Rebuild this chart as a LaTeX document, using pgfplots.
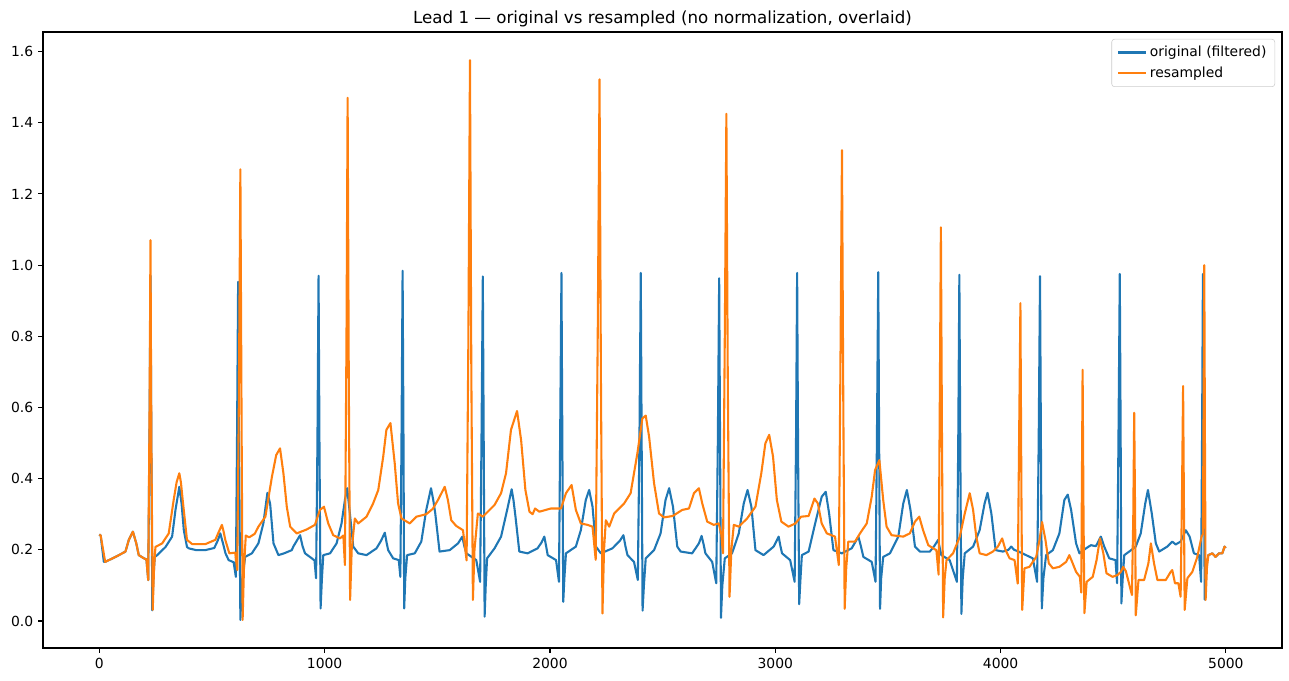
\documentclass[border=0pt]{standalone}
\usepackage{fontspec}
\setmainfont{DejaVu Sans}
\usepackage{pgfplots}
\pgfplotsset{compat=1.18}
\usetikzlibrary{calc}
\definecolor{mplblue}{HTML}{1F77B4}
\definecolor{mplorange}{HTML}{FF7F0E}
\begin{document}
\begin{tikzpicture}
\begin{axis}[
  name=ax,
  scale only axis,
  width=892.08pt, height=443.52pt,
  xmin=-250, xmax=5249, ymin=-0.076, ymax=1.655,
  xtick={0,1000,2000,3000,4000,5000},
  ytick={0,0.2,0.4,0.6,0.8,1.0,1.2,1.4,1.6},
  /pgf/number format/assume math mode=true,
  xticklabel style={/pgf/number format/.cd, set thousands separator={}, fixed},
  yticklabel style={/pgf/number format/.cd, fixed, fixed zerofill, precision=1},
  tick pos=left, tick align=outside,
  major tick length=3.5pt,
  every tick/.style={black, line width=0.8pt},
  axis line style={line width=0.8pt},
  tick label style={font=\fontsize{10}{12}\selectfont},
  title={Lead 1 — original vs resampled (no normalization, overlaid)},
  title style={at={(0.5,1)}, anchor=base, font=\fontsize{12}{14}\selectfont},
  legend style={at={(1,1)}, anchor=north east, xshift=-5pt, yshift=-5pt,
    draw=black!20, rounded corners=2pt, fill=white, fill opacity=0.8, text opacity=1,
    font=\fontsize{10}{12}\selectfont, inner xsep=4pt, inner ysep=3pt, row sep=2pt},
  legend cell align=left,
  legend image code/.code={\draw[#1] (0pt,0pt) -- (20pt,0pt);},
  every axis plot/.append style={line width=1.5pt, line join=round, mark=none},
]
\addplot[mplblue] table {
0 0.243
6 0.24
20 0.166
26 0.166
59 0.176
87 0.185
116 0.195
131 0.228
149 0.251
164 0.218
175 0.185
198 0.176
209 0.173
217 0.115
223 0.55
227 0.97
231 0.5
235 0.03
240 0.12
246 0.18
257 0.185
294 0.208
323 0.237
338 0.312
355 0.377
365 0.33
375 0.255
389 0.208
397 0.204
430 0.199
470 0.199
510 0.205
525 0.225
537 0.246
548 0.22
560 0.19
574 0.171
596 0.165
606 0.124
611 0.5
616 0.953
620 0.5
626 0.003
632 0.1
647 0.18
677 0.19
706 0.218
728 0.274
746 0.36
758 0.33
773 0.218
795 0.185
820 0.19
854 0.199
861 0.209
876 0.225
891 0.241
902 0.21
913 0.19
943 0.176
955 0.17
962 0.12
968 0.5
973 0.97
977 0.5
982 0.035
988 0.12
994 0.185
1024 0.19
1053 0.218
1075 0.274
1090 0.34
1100 0.373
1112 0.302
1127 0.209
1149 0.19
1186 0.185
1230 0.204
1250 0.225
1267 0.248
1275 0.22
1282 0.199
1304 0.176
1329 0.171
1336 0.124
1341 0.5
1346 0.984
1350 0.5
1353 0.035
1358 0.12
1366 0.185
1400 0.19
1429 0.223
1451 0.312
1472 0.373
1482 0.34
1491 0.302
1510 0.195
1555 0.199
1592 0.218
1611 0.237
1620 0.21
1629 0.19
1673 0.171
1690 0.11
1696 0.5
1702 0.968
1706 0.5
1710 0.012
1715 0.1
1721 0.176
1754 0.204
1783 0.237
1810 0.312
1830 0.37
1838 0.34
1847 0.293
1864 0.195
1901 0.19
1945 0.204
1962 0.22
1975 0.237
1983 0.21
1990 0.185
2027 0.171
2040 0.11
2045 0.5
2051 0.978
2055 0.5
2059 0.054
2064 0.12
2071 0.19
2115 0.209
2137 0.255
2159 0.34
2174 0.368
2189 0.321
2204 0.209
2226 0.19
2277 0.204
2310 0.225
2326 0.241
2335 0.21
2344 0.185
2373 0.166
2390 0.115
2397 0.5
2403 0.978
2407 0.5
2411 0.029
2417 0.1
2425 0.176
2462 0.199
2491 0.246
2513 0.34
2529 0.373
2546 0.321
2565 0.209
2580 0.195
2631 0.19
2661 0.218
2673 0.239
2682 0.215
2690 0.19
2720 0.166
2738 0.106
2745 0.5
2751 0.963
2755 0.5
2759 0.009
2765 0.1
2776 0.176
2808 0.19
2838 0.246
2860 0.33
2877 0.368
2894 0.321
2912 0.199
2948 0.185
2993 0.209
3015 0.237
3023 0.21
3030 0.19
3066 0.171
3086 0.11
3092 0.5
3097 0.978
3101 0.5
3106 0.047
3112 0.12
3118 0.185
3148 0.195
3177 0.274
3206 0.349
3224 0.363
3239 0.302
3258 0.199
3295 0.19
3339 0.204
3369 0.237
3380 0.21
3391 0.18
3428 0.166
3445 0.11
3451 0.5
3457 0.98
3461 0.5
3465 0.034
3470 0.12
3479 0.18
3509 0.19
3546 0.237
3568 0.33
3584 0.368
3600 0.312
3620 0.209
3642 0.195
3686 0.195
3705 0.21
3723 0.228
3730 0.205
3737 0.185
3774 0.171
3806 0.11
3812 0.5
3817 0.973
3821 0.5
3826 0.02
3832 0.12
3841 0.19
3878 0.209
3907 0.255
3929 0.33
3942 0.36
3959 0.302
3978 0.199
4010 0.195
4035 0.2
4047 0.209
4060 0.2
4080 0.195
4143 0.176
4162 0.11
4169 0.5
4175 0.969
4179 0.5
4183 0.035
4190 0.12
4202 0.185
4232 0.199
4261 0.246
4283 0.34
4298 0.355
4313 0.312
4335 0.218
4350 0.19
4379 0.204
4401 0.213
4423 0.21
4445 0.237
4460 0.209
4482 0.176
4510 0.171
4517 0.106
4523 0.5
4529 0.975
4533 0.5
4536 0.049
4542 0.12
4549 0.185
4571 0.195
4600 0.209
4622 0.246
4642 0.33
4654 0.368
4671 0.302
4689 0.218
4704 0.195
4740 0.209
4762 0.223
4777 0.215
4799 0.223
4822 0.255
4839 0.237
4858 0.19
4881 0.185
4890 0.11
4894 0.5
4898 0.975
4902 0.5
4906 0.06
4912 0.15
4922 0.185
4940 0.19
4954 0.18
4969 0.19
4984 0.19
4994 0.209
4999 0.205
};
\addlegendentry{original (filtered)}
\addplot[mplorange] table {
0 0.243
6 0.24
26 0.166
59 0.176
87 0.185
116 0.195
131 0.228
149 0.251
164 0.218
175 0.185
198 0.176
209 0.173
217 0.115
223 0.6
227 1.07
231 0.5
237 0.031
243 0.15
249 0.208
279 0.218
308 0.246
330 0.34
343 0.39
355 0.415
362 0.39
370 0.34
389 0.228
412 0.216
471 0.216
515 0.228
530 0.25
544 0.27
552 0.25
559 0.228
577 0.19
603 0.192
612 0.143
619 0.6
626 1.269
631 0.6
636 0.003
642 0.15
650 0.24
665 0.235
690 0.245
706 0.265
737 0.293
766 0.405
785 0.466
802 0.485
817 0.415
832 0.321
847 0.265
876 0.246
920 0.257
957 0.27
979 0.312
997 0.321
1016 0.274
1038 0.241
1068 0.232
1083 0.24
1090 0.157
1097 0.8
1102 1.47
1107 0.7
1113 0.059
1120 0.2
1134 0.288
1149 0.274
1186 0.293
1215 0.33
1238 0.368
1260 0.462
1274 0.537
1292 0.556
1311 0.443
1326 0.33
1341 0.288
1378 0.274
1407 0.293
1451 0.3
1480 0.315
1503 0.34
1533 0.377
1547 0.34
1562 0.283
1584 0.267
1614 0.255
1630 0.17
1638 0.8
1645 1.576
1651 0.7
1658 0.059
1665 0.2
1680 0.302
1702 0.293
1724 0.307
1754 0.326
1783 0.359
1805 0.415
1827 0.537
1854 0.59
1872 0.508
1891 0.368
1909 0.307
1923 0.3
1934 0.316
1953 0.307
2004 0.316
2049 0.316
2071 0.359
2096 0.382
2115 0.312
2137 0.274
2167 0.27
2189 0.265
2203 0.172
2212 0.8
2220 1.522
2226 0.7
2233 0.021
2240 0.2
2248 0.283
2263 0.265
2285 0.302
2329 0.33
2358 0.359
2388 0.471
2410 0.569
2425 0.577
2440 0.518
2462 0.387
2484 0.302
2506 0.291
2545 0.295
2587 0.312
2617 0.316
2639 0.359
2661 0.373
2676 0.33
2698 0.279
2727 0.27
2749 0.274
2760 0.246
2768 0.19
2776 0.8
2783 1.425
2789 0.7
2797 0.068
2805 0.2
2816 0.27
2838 0.265
2875 0.288
2912 0.321
2938 0.415
2956 0.499
2973 0.523
2990 0.462
3007 0.34
3027 0.279
3059 0.265
3089 0.274
3115 0.293
3148 0.295
3174 0.344
3189 0.33
3206 0.274
3229 0.246
3265 0.237
3282 0.157
3289 0.7
3296 1.323
3302 0.6
3308 0.034
3315 0.15
3324 0.223
3354 0.223
3376 0.246
3406 0.274
3428 0.349
3443 0.424
3462 0.452
3479 0.34
3494 0.265
3516 0.241
3568 0.237
3597 0.246
3620 0.279
3639 0.293
3656 0.255
3679 0.213
3701 0.204
3715 0.199
3725 0.13
3730 0.6
3735 1.106
3740 0.5
3745 0.01
3752 0.12
3760 0.171
3789 0.19
3819 0.237
3841 0.302
3863 0.359
3878 0.312
3892 0.237
3907 0.19
3937 0.185
3966 0.195
3988 0.209
4007 0.232
4022 0.199
4040 0.176
4062 0.171
4076 0.105
4082 0.5
4088 0.893
4092 0.4
4096 0.031
4106 0.148
4128 0.152
4158 0.18
4173 0.228
4184 0.278
4199 0.228
4214 0.162
4232 0.148
4261 0.152
4291 0.166
4305 0.185
4320 0.162
4335 0.138
4352 0.124
4358 0.08
4361 0.4
4364 0.706
4368 0.3
4372 0.022
4382 0.11
4409 0.124
4426 0.171
4441 0.232
4456 0.19
4470 0.134
4497 0.124
4519 0.129
4534 0.138
4544 0.152
4556 0.14
4583 0.073
4589 0.3
4593 0.585
4597 0.3
4600 0.016
4612 0.115
4637 0.115
4656 0.162
4667 0.218
4681 0.162
4696 0.115
4733 0.115
4755 0.138
4762 0.143
4774 0.106
4789 0.106
4799 0.068
4805 0.35
4810 0.66
4814 0.3
4817 0.031
4829 0.12
4851 0.138
4873 0.18
4892 0.237
4898 0.244
4901 0.6
4904 1.0
4907 0.5
4910 0.059
4916 0.15
4922 0.185
4940 0.19
4954 0.18
4969 0.19
4984 0.19
4994 0.209
4999 0.205
};
\addlegendentry{resampled}
\end{axis}
\pgfresetboundingbox
\path ($(ax.south west)+(-30.96pt,-23.04pt)$) rectangle ($(ax.north east)+(5.04pt,23.04pt)$);
\end{tikzpicture}
\end{document}
